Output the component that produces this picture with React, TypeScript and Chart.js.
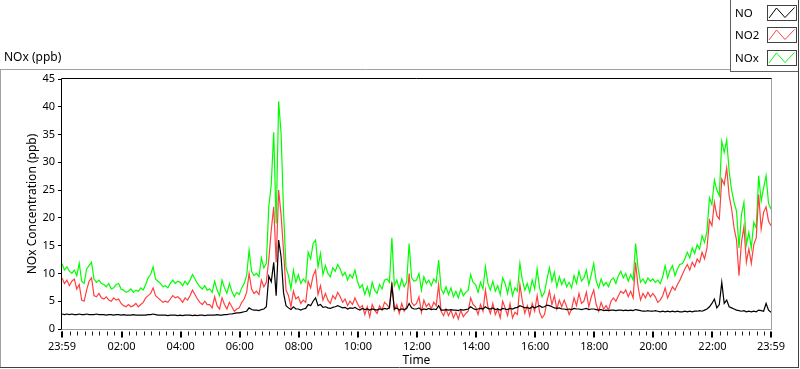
import React, { useEffect, useRef } from "react";
import { Chart, registerables } from "chart.js";

Chart.register(...registerables);

// ---- data (5-minute samples, starting 23:59) ----
const SERIES_LABELS = ["NO", "NO2", "NOx"];
const SERIES_COLORS = ["#000000", "#ff4040", "#00ff00"];
const SAMPLE_STEP_MIN = 5;

const NO = [
  2.7, 2.6, 2.7, 2.6, 2.7, 2.6, 2.6, 2.7, 2.6, 2.6, 2.7, 2.6,
  2.6, 2.6, 2.7, 2.6, 2.6, 2.6, 2.5, 2.6, 2.6, 2.5, 2.6, 2.6,
  2.5, 2.6, 2.5, 2.5, 2.5, 2.6, 2.5, 2.5, 2.5, 2.5, 2.5, 2.6,
  2.6, 2.7, 2.6, 2.5, 2.5, 2.5, 2.5, 2.4, 2.5, 2.5, 2.5, 2.4,
  2.5, 2.4, 2.5, 2.5, 2.5, 2.4, 2.5, 2.4, 2.5, 2.5, 2.4, 2.5,
  2.5, 2.5, 2.5, 2.6, 2.5, 2.5, 2.6, 2.6, 2.7, 2.7, 2.8, 2.9,
  2.9, 3.0, 3.1, 3.2, 3.8, 3.5, 3.4, 3.4, 3.3, 3.5, 3.6, 4.0,
  9.5, 8.5, 12.0, 6.0, 16.0, 13.0, 6.5, 4.2, 3.8, 3.5, 4.0, 3.6,
  3.6, 3.4, 3.6, 3.7, 4.4, 4.2, 5.0, 5.6, 4.2, 4.4, 3.9, 4.0,
  3.8, 3.7, 3.9, 4.0, 4.2, 4.0, 3.8, 3.9, 3.6, 3.8, 3.7, 3.9,
  3.6, 3.4, 3.7, 3.5, 3.6, 3.4, 3.6, 3.5, 3.4, 3.6, 3.5, 3.7,
  3.6, 3.8, 7.8, 3.6, 3.8, 3.4, 3.6, 3.5, 3.7, 4.6, 3.8, 3.6,
  3.6, 3.8, 3.4, 3.6, 3.5, 3.7, 3.5, 3.6, 3.5, 4.2, 3.4, 3.4,
  3.5, 3.4, 3.5, 3.4, 3.4, 3.3, 3.5, 3.4, 3.5, 3.6, 4.0, 3.7,
  3.5, 3.6, 3.7, 3.6, 4.0, 3.7, 3.6, 3.8, 3.5, 3.6, 3.4, 3.7,
  3.6, 3.5, 3.7, 3.6, 3.8, 3.9, 4.2, 4.0, 3.8, 3.9, 3.7, 4.0,
  3.8, 4.0, 4.2, 3.9, 4.0, 4.3, 4.2, 4.0, 3.8, 3.7, 3.8, 3.6,
  3.6, 3.5, 3.6, 3.5, 3.7, 3.6, 3.6, 3.5, 3.6, 3.7, 3.5, 3.6,
  3.6, 3.5, 3.4, 3.5, 3.3, 3.4, 3.3, 3.4, 3.4, 3.3, 3.4, 3.4,
  3.3, 3.4, 3.3, 3.4, 3.3, 3.5, 3.4, 3.3, 3.2, 3.2, 3.3, 3.2,
  3.2, 3.3, 3.2, 3.1, 3.2, 3.1, 3.2, 3.1, 3.2, 3.1, 3.2, 3.1,
  3.1, 3.2, 3.1, 3.2, 3.1, 3.2, 3.2, 3.3, 3.2, 3.4, 3.6, 4.0,
  4.6, 5.4, 3.8, 4.4, 8.4, 4.6, 5.2, 4.0, 3.8, 3.6, 3.4, 3.3,
  3.2, 3.3, 3.1, 3.2, 3.1, 3.2, 3.1, 3.4, 3.3, 3.2, 4.6, 3.4,
  3.0,
];

const NO2 = [
  9.2, 8.2, 8.8, 7.8, 8.6, 9.0, 7.2, 8.0, 5.2, 5.0, 7.0, 8.6,
  9.2, 6.0, 5.8, 6.4, 5.6, 5.4, 5.8, 5.2, 5.0, 5.6, 5.2, 5.4,
  4.6, 4.2, 4.0, 4.4, 4.0, 4.2, 4.6, 4.0, 4.4, 4.8, 5.6, 6.0,
  6.4, 7.4, 6.0, 5.6, 5.2, 4.8, 5.0, 4.8, 5.4, 6.0, 5.6, 5.8,
  5.4, 4.8, 5.6, 5.2, 6.0, 7.0, 6.2, 5.4, 4.8, 4.4, 5.0, 4.4,
  4.4, 3.8, 5.8, 4.2, 3.6, 5.6, 4.4, 3.6, 4.8, 4.0, 3.2, 3.6,
  3.8, 4.8, 5.4, 6.6, 10.0, 7.2, 6.4, 6.8, 6.2, 8.8, 7.6, 8.4,
  12.5, 17.8, 22.0, 12.0, 25.0, 20.5, 14.0, 7.0, 6.0, 4.0, 6.8, 5.4,
  5.8, 4.6, 5.2, 4.8, 8.6, 7.4, 9.6, 10.6, 6.2, 7.8, 5.2, 6.4,
  5.2, 4.6, 6.0, 5.4, 6.6, 5.8, 4.8, 5.4, 4.2, 5.0, 4.4, 5.6,
  4.6, 3.8, 4.2, 2.6, 4.0, 2.2, 4.4, 3.4, 2.8, 4.2, 3.4, 4.8,
  4.4, 3.8, 8.4, 3.4, 4.4, 2.8, 4.6, 3.2, 4.0, 10.0, 4.8, 4.2,
  4.6, 5.8, 3.0, 5.2, 4.0, 4.6, 3.6, 4.8, 4.2, 8.0, 3.2, 2.4,
  3.6, 2.4, 3.4, 2.0, 3.0, 1.8, 3.4, 2.2, 2.8, 3.2, 5.6, 4.4,
  4.0, 2.6, 4.4, 3.2, 7.0, 4.0, 2.8, 4.6, 2.6, 3.6, 2.0, 5.0,
  3.8, 2.4, 4.6, 2.0, 3.0, 2.6, 8.0, 5.0, 2.8, 4.2, 2.4, 4.6,
  3.2, 6.0, 3.0, 2.0, 2.6, 5.0, 6.8, 4.4, 6.0, 3.6, 5.2, 4.0,
  5.2, 4.0, 2.6, 3.6, 5.6, 4.2, 6.4, 4.6, 5.0, 6.6, 4.0, 5.8,
  7.0, 4.4, 3.2, 4.8, 3.6, 4.2, 3.4, 5.0, 5.6, 5.0, 6.0, 6.8,
  6.4, 7.0, 5.8, 6.8, 5.6, 12.0, 7.6, 5.2, 6.4, 5.6, 6.6, 5.8,
  6.4, 5.8, 4.8, 5.2, 6.0, 7.4, 5.6, 6.6, 7.6, 7.0, 8.0, 8.8,
  9.8, 10.8, 11.6, 10.6, 12.0, 11.2, 12.6, 12.0, 13.8, 12.6, 14.6, 19.6,
  18.6, 22.8, 20.4, 19.8, 27.0, 26.0, 29.0, 24.0, 21.6, 18.2, 16.0, 9.6,
  15.6, 18.4, 12.0, 14.4, 11.8, 15.2, 16.4, 24.2, 18.0, 21.0, 22.0, 19.4,
  18.6,
];

const NOX = [
  11.8, 10.6, 11.2, 10.4, 10.0, 10.6, 9.6, 11.8, 8.6, 8.2, 10.8, 11.4,
  12.0, 9.0, 8.4, 8.8, 8.2, 8.0, 7.6, 8.2, 7.2, 7.4, 8.0, 8.2,
  7.2, 7.0, 6.6, 6.8, 7.2, 6.6, 7.0, 6.8, 7.4, 7.0, 8.0, 9.2,
  9.8, 11.2, 9.0, 8.6, 8.2, 7.6, 7.8, 7.4, 8.2, 8.8, 8.2, 8.6,
  8.4, 7.8, 8.6, 8.0, 8.8, 9.8, 9.0, 8.2, 7.6, 7.2, 7.8, 7.0,
  7.2, 6.6, 8.6, 7.0, 6.0, 8.8, 7.4, 6.4, 8.2, 6.8, 5.8, 6.6,
  6.2, 7.4, 8.2, 9.6, 14.2, 10.4, 9.6, 10.0, 9.4, 12.8, 11.0, 11.8,
  22.0, 26.0, 35.4, 19.0, 41.0, 35.2, 21.0, 11.0, 9.6, 7.2, 10.6, 8.4,
  9.8, 8.2, 9.0, 8.4, 13.8, 12.6, 15.4, 16.0, 11.2, 13.6, 9.8, 11.4,
  10.0, 9.4, 11.0, 10.4, 11.6, 10.8, 9.6, 10.2, 8.8, 9.8, 9.2, 10.6,
  8.6, 7.4, 8.0, 6.2, 7.6, 6.0, 8.4, 7.0, 6.4, 8.0, 7.2, 8.8,
  9.0, 8.4, 16.4, 7.8, 8.8, 7.2, 9.0, 7.6, 8.4, 15.4, 9.2, 8.6,
  8.8, 10.0, 7.0, 9.4, 8.2, 8.8, 7.8, 9.0, 8.4, 12.4, 7.2, 6.4,
  7.6, 6.2, 7.4, 5.8, 6.8, 5.6, 7.2, 6.0, 6.6, 7.0, 9.8, 8.4,
  8.0, 6.6, 8.4, 7.2, 11.2, 8.2, 7.0, 8.6, 6.8, 7.8, 6.2, 9.2,
  8.2, 6.4, 8.6, 6.0, 7.4, 6.8, 11.8, 8.8, 7.0, 8.2, 6.6, 8.8,
  7.2, 10.8, 7.4, 5.8, 6.6, 9.0, 11.0, 8.6, 10.2, 7.6, 9.4, 8.0,
  9.0, 7.6, 8.4, 7.4, 9.6, 8.2, 10.4, 8.6, 9.2, 10.6, 8.0, 9.8,
  11.8, 8.6, 7.4, 9.0, 7.8, 8.4, 7.6, 8.8, 9.2, 8.2, 9.6, 10.4,
  9.2, 10.0, 8.6, 9.8, 8.8, 15.4, 11.0, 8.4, 9.0, 8.2, 9.2, 8.6,
  9.0, 8.4, 8.8, 8.2, 9.4, 11.4, 9.2, 10.6, 11.4, 9.6, 10.8, 11.6,
  11.8, 12.6, 13.8, 12.8, 14.6, 13.6, 15.2, 14.4, 16.8, 15.6, 17.6, 23.6,
  22.4, 26.8, 25.0, 24.0, 33.8, 31.8, 34.0, 28.4, 25.0, 22.8, 21.2, 14.6,
  20.6, 22.8, 15.2, 17.4, 14.6, 19.2, 18.2, 27.6, 23.0, 25.4, 27.6, 22.6,
  21.6,
];

// x-axis: minutes after 23:59
const X_MAX_MIN = 1440;
const TICK_MINUTES = [0, 121, 241, 361, 481, 601, 721, 841, 961, 1081, 1201, 1321, 1440];
const TICK_LABELS = ["23:59", "02:00", "04:00", "06:00", "08:00", "10:00", "12:00", "14:00", "16:00", "18:00", "20:00", "22:00", "23:59"];
const MINOR_TICK_START = 1;
const MINOR_TICK_STEP = 15;

const Y_MIN = 0;
const Y_MAX = 45;
const Y_STEP = 5;

const CHART_TITLE = "NOx (ppb)";
const Y_TITLE = "NOx Concentration (ppb)";
const X_TITLE = "Time";

const FONT_FAMILY = "'Noto Sans', 'Open Sans', sans-serif";
const TEXT_COLOR = "#000000";

const decorPlugin = {
  id: "decor",
  afterDraw(chart: any) {
    const ctx: CanvasRenderingContext2D = chart.ctx;
    const a = chart.chartArea;
    const xs = chart.scales.x;
    ctx.save();
    ctx.lineWidth = 1;
    const seg = (x1: number, y1: number, x2: number, y2: number, color: string, w = 1) => {
      ctx.strokeStyle = color;
      ctx.lineWidth = w;
      ctx.beginPath();
      ctx.moveTo(x1, y1);
      ctx.lineTo(x2, y2);
      ctx.stroke();
    };

    // outer panel frame
    seg(0, 69.5, 731, 69.5, "#a0a0a0");
    seg(0.5, 69, 0.5, 368, "#a0a0a0");
    seg(0, 367.5, 799, 367.5, "#404040");
    seg(798.5, 71, 798.5, 368, "#404040");

    // plot frame
    const L = Math.round(a.left) - 0.5;
    const T = Math.round(a.top) - 0.5;
    const R = Math.round(a.right) + 0.5;
    const B = Math.round(a.bottom) + 0.5;
    seg(L, T, R + 0.5, T, "#000000");
    seg(L, T, L, B + 0.5, "#000000");
    seg(R, T, R, B + 0.5, "#a0a0a0");
    seg(L, B, R + 0.5, B, "#a0a0a0");

    // x-axis ticks (minor every 15 min, major at labels)
    for (let m = MINOR_TICK_START; m < X_MAX_MIN; m += MINOR_TICK_STEP) {
      if (TICK_MINUTES.includes(m)) continue;
      const x = Math.round(xs.getPixelForValue(m)) + 0.5;
      seg(x, B + 2, x, B + 6, "#202020");
    }
    for (const m of TICK_MINUTES) {
      const x = Math.round(xs.getPixelForValue(m));
      seg(x, B + 2, x, B + 8, "#000000", 2);
    }

    // chart title
    ctx.fillStyle = TEXT_COLOR;
    ctx.font = `12px ${FONT_FAMILY}`;
    ctx.textBaseline = "middle";
    ctx.textAlign = "left";
    ctx.fillText(CHART_TITLE, 4, 58);

    // legend box
    ctx.fillStyle = "#ffffff";
    ctx.fillRect(731, 0, 68, 71);
    seg(730.5, 0, 730.5, 72, "#606060");
    seg(730, 71.5, 799, 71.5, "#606060");
    seg(798.5, 0, 798.5, 72, "#404040");

    const ds = chart.data.datasets;
    const swTops = [5.5, 27.5, 50.5];
    const textY = [13.5, 35.5, 58.5];
    for (let i = 0; i < ds.length; i++) {
      ctx.fillStyle = TEXT_COLOR;
      ctx.font = `11.5px ${FONT_FAMILY}`;
      ctx.textAlign = "left";
      ctx.textBaseline = "middle";
      ctx.fillText(ds[i].label, 735, textY[i]);
      const st = swTops[i];
      ctx.fillStyle = "#ffffff";
      ctx.fillRect(767.5, st, 29, 15);
      ctx.strokeStyle = "#404040";
      ctx.lineWidth = 1;
      ctx.strokeRect(767.5, st, 29, 15);
      ctx.strokeStyle = ds[i].borderColor;
      ctx.beginPath();
      ctx.moveTo(769, st + 12.5);
      ctx.lineTo(776.5, st + 2.5);
      ctx.lineTo(785, st + 12);
      ctx.lineTo(794.5, st + 2);
      ctx.stroke();
    }
    ctx.restore();
  },
};

export default function App() {
  const canvasRef = useRef<HTMLCanvasElement | null>(null);

  useEffect(() => {
    const canvas = canvasRef.current;
    if (!canvas) return;
    const minutes = NO.map((_, i) => i * SAMPLE_STEP_MIN);
    const seriesValues = [NO, NO2, NOX];
    const chart = new Chart(canvas, {
      type: "line",
      data: {
        datasets: seriesValues.map((vals, si) => ({
          label: SERIES_LABELS[si],
          data: vals.map((v, i) => ({ x: minutes[i], y: v })),
          borderColor: SERIES_COLORS[si],
          backgroundColor: SERIES_COLORS[si],
          borderWidth: 1.2,
          pointRadius: 0,
          tension: 0,
          stepped: false,
          fill: false,
        })),
      },
      options: {
        responsive: false,
        animation: false,
        layout: { padding: { left: 20, top: 79, right: 29, bottom: 0 } },
        plugins: {
          legend: { display: false },
          title: { display: false },
          tooltip: { enabled: false },
        },
        scales: {
          x: {
            type: "linear",
            min: 0,
            max: X_MAX_MIN,
            afterFit: (s: any) => {
              s.height = 40;
            },
            afterBuildTicks: (s: any) => {
              s.ticks = TICK_MINUTES.map((v) => ({ value: v }));
            },
            ticks: {
              autoSkip: false,
              maxRotation: 0,
              minRotation: 0,
              padding: 11,
              color: TEXT_COLOR,
              font: { family: FONT_FAMILY, size: 11 },
              callback: (v: any) => {
                const idx = TICK_MINUTES.indexOf(Number(v));
                return idx >= 0 ? TICK_LABELS[idx] : "";
              },
            },
            grid: { display: false, drawTicks: false },
            border: { display: false },
            title: {
              display: true,
              text: X_TITLE,
              color: TEXT_COLOR,
              font: { family: FONT_FAMILY, size: 12 },
              padding: { top: 0, bottom: 1 },
            },
          },
          y: {
            type: "linear",
            min: Y_MIN,
            max: Y_MAX,
            afterFit: (s: any) => {
              s.width = 42;
            },
            ticks: {
              stepSize: Y_STEP,
              padding: 3,
              color: TEXT_COLOR,
              font: { family: FONT_FAMILY, size: 11 },
            },
            grid: {
              drawOnChartArea: false,
              drawTicks: true,
              tickLength: 4,
              color: "#000000",
            },
            border: { display: false },
            title: {
              display: true,
              text: Y_TITLE,
              color: TEXT_COLOR,
              font: { family: FONT_FAMILY, size: 12 },
              padding: { top: 5, bottom: 0 },
            },
          },
        },
      },
      plugins: [decorPlugin],
    } as any);
    return () => chart.destroy();
  }, []);

  return (
    <div style={{ position: "fixed", left: 0, top: 0, width: 800, height: 369, background: "#ffffff" }}>
      <canvas ref={canvasRef} width={800} height={369} style={{ display: "block", width: 800, height: 369 }} />
    </div>
  );
}
